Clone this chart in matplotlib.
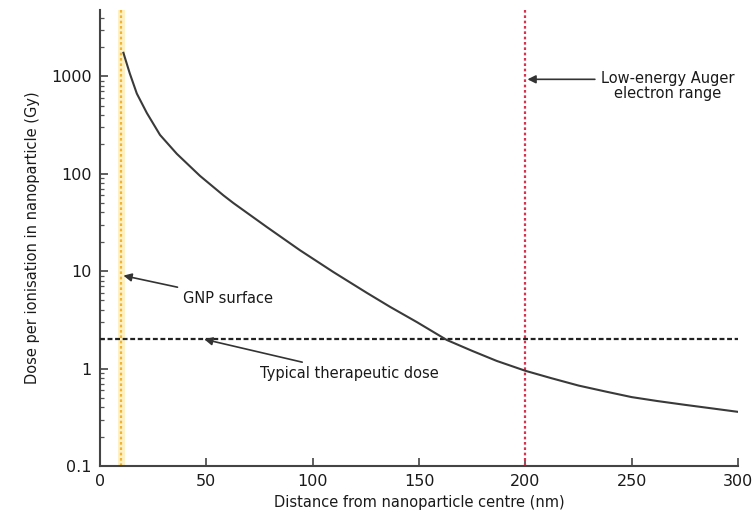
import matplotlib
matplotlib.use("Agg")
import matplotlib.pyplot as plt

# dose curve (distance in nm, dose in Gy)
distance_nm = [11, 12.5, 14, 17.3, 22, 28.2, 36.1, 47, 58, 62.7, 78.4, 94, 109.7, 125.4, 136.4,
               149, 163, 175, 186.5, 200, 212, 225, 238, 250, 262, 275, 288, 300]
dose_gy = [1740, 1360, 1067, 664, 420, 250, 160, 95, 60, 50, 28.4, 16.4, 9.8, 6.0, 4.3,
           3.0, 1.97, 1.52, 1.2, 0.95, 0.80, 0.67, 0.58, 0.51, 0.465, 0.425, 0.39, 0.36]

therapeutic_dose = 2
gnp_surface_nm = 10
auger_range_nm = 200

x_ticks = [0, 50, 100, 150, 200, 250, 300]
y_ticks = [0.1, 1, 10, 100, 1000]
y_tick_labels = ["0.1", "1", "10", "100", "1000"]

plt.rcParams['font.family'] = ['DejaVu Sans']

fig = plt.figure(figsize=(7.55, 5.19), dpi=100)
ax = fig.add_axes([0.1325, 0.102, 0.845, 0.879])

# reference lines
ax.axvline(gnp_surface_nm, color='#fdf1c4', lw=5, zorder=1)
ax.axvline(gnp_surface_nm, color='#f0b432', lw=1.6, ls=(0, (1.2, 1.2)), zorder=2)
ax.axvline(auger_range_nm, color='#d8334e', lw=1.6, ls=(0, (1.2, 1.2)), zorder=2)
ax.plot([0, 300], [therapeutic_dose, therapeutic_dose], color='#222222', lw=1.6,
        ls=(0, (2.2, 1.2)), zorder=3)

ax.plot(distance_nm, dose_gy, color='#3a3a3a', lw=1.5, zorder=4)

ax.set_yscale('log')
ax.set_xlim(0, 300)
ax.set_ylim(0.1, 4800)
ax.set_xticks(x_ticks)
ax.set_xticklabels([str(t) for t in x_ticks])
ax.set_yticks(y_ticks)
ax.set_yticklabels(y_tick_labels)

for side in ['top', 'right']:
    ax.spines[side].set_visible(False)
for side in ['left', 'bottom']:
    ax.spines[side].set_color('#444444')
    ax.spines[side].set_linewidth(1.5)

ax.tick_params(axis='both', which='major', direction='in', length=6, width=1.2,
               colors='#444444', labelcolor='#1a1a1a', labelsize=11.5, pad=6)
ax.tick_params(axis='y', which='minor', direction='in', length=3, width=0.9, colors='#555555')

ax.set_xlabel('Distance from nanoparticle centre (nm)', fontsize=10.5, color='#1a1a1a', labelpad=4)
ax.set_ylabel('Dose per ionisation in nanoparticle (Gy)', fontsize=10.5, color='#1a1a1a', labelpad=8)

arrow = dict(arrowstyle='-|>', color='#333333', lw=1.2, mutation_scale=12, shrinkA=2, shrinkB=0)

ax.annotate('GNP surface', xy=(11, 9), xytext=(39, 5.3), fontsize=10.5,
            ha='left', va='center', color='#1a1a1a', arrowprops=arrow)
ax.annotate('Typical therapeutic dose', xy=(49, 2.0), xytext=(75, 0.9), fontsize=10.5,
            ha='left', va='center', color='#1a1a1a', arrowprops=arrow)
ax.annotate('', xy=(201, 930), xytext=(234, 930), arrowprops=arrow)
ax.text(267, 790, 'Low-energy Auger\nelectron range', fontsize=10.5, ha='center',
        va='center', color='#1a1a1a', linespacing=1.0)

fig.savefig('out.png', dpi=100)
